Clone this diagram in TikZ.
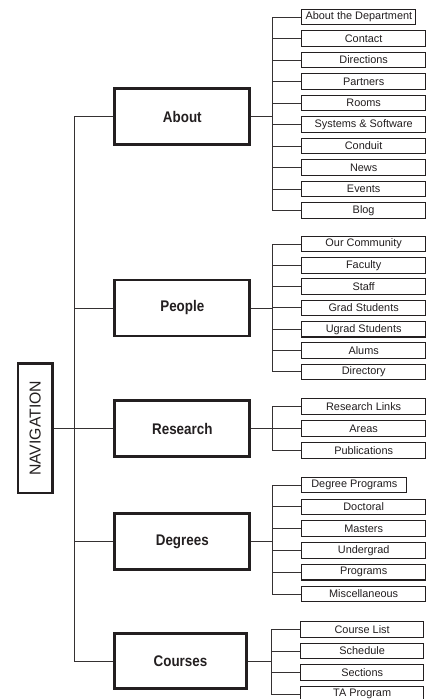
\documentclass[tikz,border=0pt]{standalone}
\usepackage{fontspec}
\setmainfont{Liberation Sans}
\newfontfamily\headfont[FakeStretch=0.87]{Liberation Sans Bold}
\definecolor{ink}{HTML}{231F20}

\begin{document}
\begin{tikzpicture}[x=1pt,y=-1pt,
  link/.style={draw=ink!92, line width=1pt},
  navbox/.style={draw=ink, line width=2.7pt, minimum width=34.7pt,
    minimum height=129.3pt, inner sep=0pt, text=ink,
    font=\fontsize{15.8}{18}\selectfont},
  mainbox/.style={draw=ink, line width=2.9pt, minimum width=135pt,
    minimum height=56pt, inner sep=0pt, text=ink,
    font=\headfont\fontsize{15.4}{18}\selectfont},
  subbox/.style={draw=ink, line width=1.1pt, anchor=west,
    minimum width=123.6pt, minimum height=15.5pt, inner sep=0pt, text=ink,
    font=\fontsize{10.9}{12}\selectfont}]

\clip (0,0) rectangle (432,699);
\fill[white] (0,0) rectangle (432,699);

% junction columns
\coordinate (trunk) at (74,0);
\coordinate (jx) at (272,0);
\coordinate (jxc) at (271,0);

% root and sections
\node[navbox] (nav) at (35.3,428.3) {\rotatebox{90}{NAVIGATION}};
\node[mainbox] (about)    at (182.3,116.5) {About};
\node[mainbox] (people)   at (182.3,308)   {People};
\node[mainbox] (research) at (182.3,428.5) {Research};
\node[mainbox] (degrees)  at (182.3,541.5) {Degrees};
\node[mainbox, minimum width=132pt, minimum height=55pt] (courses) at (180.5,661) {Courses};

% About pages
\node[subbox, minimum width=114pt] (a1) at (301.3,17) {About the Department};
\foreach \t [count=\i from 2] in {Contact, Directions, Partners, Rooms,
    Systems \& Software, Conduit, News, Events, Blog}
  \node[subbox] (a\i) at (301.3,{17+(\i-1)*21.5}) {\t};

% People pages
\foreach \t [count=\i] in {Our Community, Faculty, Staff, Grad Students,
    Ugrad Students, Alums, Directory}
  \node[subbox] (p\i) at (301.3,{244+(\i-1)*21.3}) {\t};

% Research pages
\foreach \t [count=\i] in {Research Links, Areas, Publications}
  \node[subbox] (r\i) at (301.3,{406.5+(\i-1)*22}) {\t};

% Degree pages
\node[subbox, minimum width=105pt] (d1) at (301.3,485) {Degree Programs};
\foreach \t [count=\i from 2] in {Doctoral, Masters, Undergrad, Programs,
    Miscellaneous}
  \node[subbox] (d\i) at (301.3,{485+(\i-1)*21.8}) {\t};

% Course pages
\foreach \t [count=\i] in {Course List, Schedule, Sections, TA Program}
  \node[subbox, minimum width=122.6pt] (c\i) at (300.3,{629.5+(\i-1)*21.5}) {\t};

% main trunk
\draw[link] (about.west -| trunk) -- (courses.west -| trunk);
\draw[link] (nav.east) -- (nav.east -| trunk);
\foreach \m in {about, people, research, degrees, courses}
  \draw[link] (\m.west) -- (\m.west -| trunk);

% section branches
\foreach \i in {1,...,10}
  \draw[link] (a\i.west) -- (a\i.west -| jx) |- (about.east);
\foreach \i in {1,...,7}
  \draw[link] (p\i.west) -- (p\i.west -| jx) |- (people.east);
\foreach \i in {1,...,3}
  \draw[link] (r\i.west) -- (r\i.west -| jx) |- (research.east);
\foreach \i in {1,...,6}
  \draw[link] (d\i.west) -- (d\i.west -| jx) |- (degrees.east);
\foreach \i in {1,...,4}
  \draw[link] (c\i.west) -- (c\i.west -| jxc) |- (courses.east);
\end{tikzpicture}
\end{document}
